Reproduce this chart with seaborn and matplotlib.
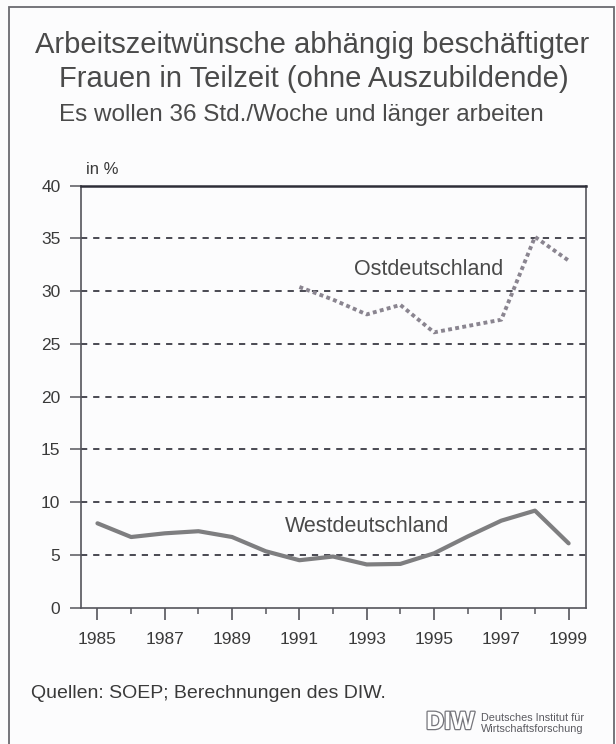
import matplotlib
matplotlib.use("Agg")
import matplotlib.pyplot as plt
import matplotlib.patheffects as pe
from matplotlib.patches import Rectangle
from matplotlib.ticker import FixedLocator
import pandas as pd
import seaborn as sns

# Werte (in %)
years_west = list(range(1985, 2000))
west = [8.0, 6.7, 7.05, 7.25, 6.7, 5.35, 4.5, 4.85, 4.1, 4.15, 5.15, 6.75, 8.25, 9.2, 6.1]

years_east = list(range(1991, 2000))
east = [30.4, 29.2, 27.8, 28.7, 26.1, 26.7, 27.3, 35.15, 32.9]

major_years = [1985, 1987, 1989, 1991, 1993, 1995, 1997, 1999]
minor_years = [1986, 1988, 1990, 1992, 1994, 1996, 1998]
y_ticks = [0, 5, 10, 15, 20, 25, 30, 35, 40]

title_lines = ["Arbeitszeitwünsche abhängig beschäftigter",
               "Frauen in Teilzeit (ohne Auszubildende)"]
subtitle = "Es wollen 36 Std./Woche und länger arbeiten"
source = "Quellen: SOEP; Berechnungen des DIW."

sns.set_theme(style="white")
plt.rcParams["font.family"] = ["Liberation Sans", "DejaVu Sans"]

BG = "#fcfcfd"
TXT = "#4a4a4a"
AX = "#55555c"

df_west = pd.DataFrame({"Jahr": years_west, "Anteil": west})
df_east = pd.DataFrame({"Jahr": years_east, "Anteil": east})

fig = plt.figure(figsize=(6.16, 7.44), dpi=100, facecolor=BG)
ax = fig.add_axes([0.132, 0.1832, 0.8195, 0.5672], facecolor=BG)

# gestrichelte Gitterlinien
for v in y_ticks[1:-1]:
    ax.axhline(v, color="#33333d", linewidth=1.25, linestyle=(0, (3.6, 3.4)), zorder=1)

sns.lineplot(data=df_west, x="Jahr", y="Anteil", ax=ax, color="#7e7e80",
             linewidth=3.0, solid_capstyle="round", solid_joinstyle="round", zorder=3)
sns.lineplot(data=df_east, x="Jahr", y="Anteil", ax=ax, color="#8a8590",
             linewidth=2.8, linestyle=(0, (1.0, 0.85)), dash_capstyle="butt", zorder=3)

ax.set_xlim(1984.52, 1999.52)
ax.set_ylim(0, 40)
ax.set_xlabel("")
ax.set_ylabel("")

ax.xaxis.set_major_locator(FixedLocator(major_years))
ax.xaxis.set_minor_locator(FixedLocator(minor_years))
ax.set_yticks(y_ticks)
ax.set_xticklabels([str(y) for y in major_years])

ax.tick_params(axis="x", which="major", direction="out", length=8.6, width=1.2,
               color=AX, labelsize=12.5, labelcolor="#3a3a3a", pad=9, bottom=True)
ax.tick_params(axis="x", which="minor", direction="out", length=4.3, width=1.1,
               color=AX, bottom=True)
ax.tick_params(axis="y", direction="out", length=8.0, width=1.1, color=AX,
               labelsize=12.5, labelcolor="#3a3a3a", pad=7, left=True)

for side in ["left", "right", "bottom"]:
    ax.spines[side].set_visible(True)
    ax.spines[side].set_color(AX)
    ax.spines[side].set_linewidth(1.2)
ax.spines["top"].set_visible(True)
ax.spines["top"].set_color("#2e2e38")
ax.spines["top"].set_linewidth(1.8)

ax.text(1994.84, 32.1, "Ostdeutschland", fontsize=15.5, color=TXT,
        ha="center", va="center", zorder=4)
ax.text(1993.02, 7.74, "Westdeutschland", fontsize=15.5, color=TXT,
        ha="center", va="center", zorder=4)

# Titel, Untertitel, Einheit
fig.text(0.506, 1 - 45 / 744, title_lines[0], fontsize=21, color=TXT, ha="center", va="center")
fig.text(0.510, 1 - 79 / 744, title_lines[1], fontsize=21, color=TXT, ha="center", va="center")
fig.text(0.490, 1 - 115 / 744, subtitle, fontsize=17.5, color=TXT, ha="center", va="center")
fig.text(85.7 / 616, 1 - 169 / 744, "in %", fontsize=12, color="#3a3a3a", ha="left", va="center")

fig.text(31.4 / 616, 1 - 693 / 744, source, fontsize=14, color="#3a3a3a", ha="left", va="center")

# DIW-Logo
fig.text(426 / 616, 1 - 722 / 744, "DIW", fontsize=18, fontweight="bold", color="white",
         ha="left", va="center",
         path_effects=[pe.withStroke(linewidth=1.8, foreground="#75757b")])
fig.text(481 / 616, 1 - 718 / 744, "Deutsches Institut für", fontsize=7.8, color="#5a5a60",
         ha="left", va="center")
fig.text(481 / 616, 1 - 728.5 / 744, "Wirtschaftsforschung", fontsize=7.8, color="#5a5a60",
         ha="left", va="center")

# Rahmen um die Grafik
fig.patches.append(Rectangle((9 / 616, -0.02), (614 - 9) / 616, 0.02 + 1 - 7 / 744,
                             transform=fig.transFigure, fill=False,
                             edgecolor="#6a6a70", linewidth=1.3, clip_on=False))

fig.savefig("out.png", dpi=100, facecolor=BG)
